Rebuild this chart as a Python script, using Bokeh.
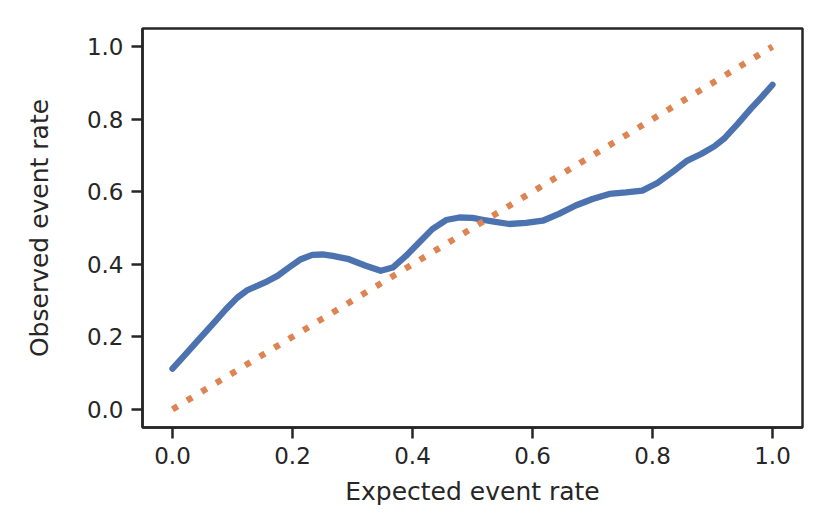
from bokeh.plotting import figure
from bokeh.models import Range1d, FixedTicker, PrintfTickFormatter
from bokeh.embed import file_html
from bokeh.resources import INLINE

# Observed calibration curve
expected = [0.000, 0.022, 0.044, 0.067, 0.089, 0.108, 0.125, 0.142, 0.158, 0.175,
            0.194, 0.214, 0.233, 0.250, 0.267, 0.294, 0.322, 0.347, 0.367, 0.389,
            0.411, 0.433, 0.456, 0.478, 0.500, 0.519, 0.533, 0.561, 0.589, 0.617,
            0.644, 0.672, 0.700, 0.728, 0.756, 0.783, 0.808, 0.836, 0.858, 0.881,
            0.903, 0.919, 0.942, 0.964, 0.983, 1.000]
observed = [0.112, 0.152, 0.193, 0.235, 0.276, 0.308, 0.329, 0.341, 0.353, 0.368,
            0.391, 0.414, 0.426, 0.427, 0.423, 0.414, 0.396, 0.382, 0.391, 0.423,
            0.460, 0.497, 0.522, 0.529, 0.528, 0.522, 0.518, 0.511, 0.514, 0.520,
            0.539, 0.562, 0.580, 0.594, 0.598, 0.603, 0.624, 0.658, 0.686, 0.704,
            0.725, 0.746, 0.787, 0.829, 0.863, 0.895]

# Perfect calibration reference line
diag_x = [0.0, 1.0]
diag_y = [0.0, 1.0]

ticks = [0.0, 0.2, 0.4, 0.6, 0.8, 1.0]

DARK = "#262626"
FONT = "DejaVu Sans"

p = figure(width=814, height=513, output_backend="svg", toolbar_location=None,
           x_range=Range1d(-0.05, 1.05), y_range=Range1d(-0.05, 1.05),
           min_border_left=142, min_border_right=12, min_border_top=28,
           min_border_bottom=86)

p.line(expected, observed, line_color="#4C72B0", line_width=6.3, line_cap="round",
       line_join="round")
p.line(diag_x, diag_y, line_color="#DD8452", line_width=6.3, line_dash="6 11",
       line_cap="butt")

p.grid.visible = False
p.outline_line_color = DARK
p.outline_line_width = 2.5
p.outline_line_alpha = 1.0

for ax in (p.xaxis[0], p.yaxis[0]):
    ax.ticker = FixedTicker(ticks=ticks)
    ax.formatter = PrintfTickFormatter(format="%.1f")
    ax.axis_line_color = DARK
    ax.axis_line_width = 2.5
    ax.major_tick_line_color = DARK
    ax.major_tick_line_width = 2.5
    ax.major_tick_out = 11
    ax.major_tick_in = 0
    ax.minor_tick_line_color = None
    ax.major_label_text_font = FONT
    ax.major_label_text_font_size = "23px"
    ax.major_label_text_color = DARK
    ax.axis_label_text_font = FONT
    ax.axis_label_text_font_size = "25px"
    ax.axis_label_text_font_style = "normal"
    ax.axis_label_text_color = DARK
    ax.major_label_standoff = 8

p.xaxis[0].axis_label = "Expected event rate"
p.yaxis[0].axis_label = "Observed event rate"
p.xaxis[0].axis_label_standoff = 10
p.yaxis[0].axis_label_standoff = 30

open("out.html", "w").write(file_html(p, INLINE))
